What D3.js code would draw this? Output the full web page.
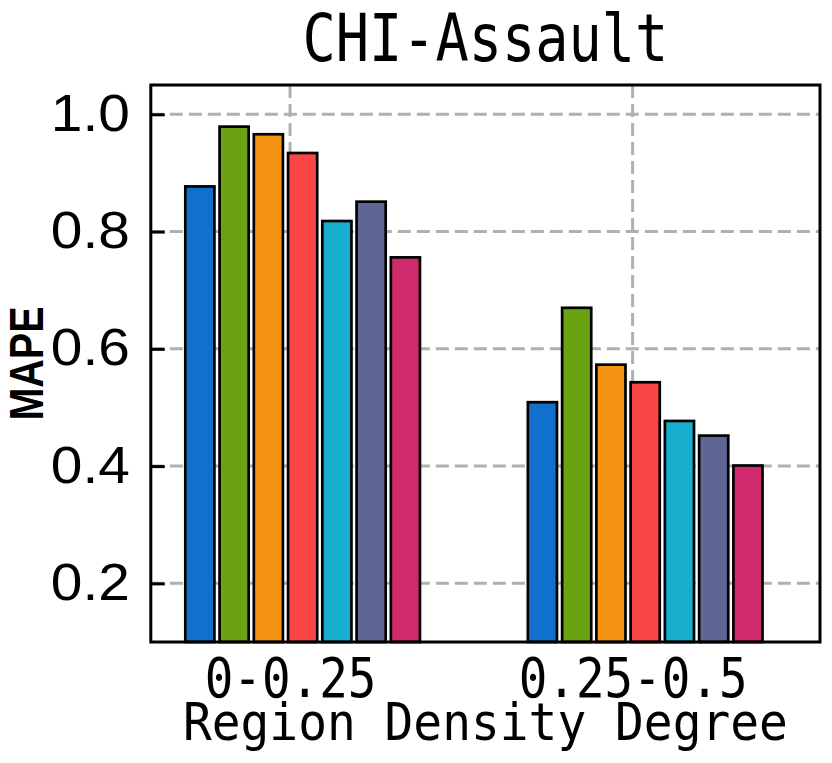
<!DOCTYPE html>
<html>
<head>
<meta charset="utf-8">
<script src="https://cdn.jsdelivr.net/npm/d3@7"></script>
<style>
  html, body { margin: 0; padding: 0; background: #ffffff; }
  svg { display: block; }
</style>
</head>
<body>
<svg id="chart" width="832" height="763"></svg>
<script>
// ---------------- data ----------------
const title = "CHI-Assault";
const xAxisTitle = "Region Density Degree";
const yAxisTitle = "MAPE";
const categories = ["0-0.25", "0.25-0.5"];
const seriesNames = ["S1", "S2", "S3", "S4", "S5", "S6", "S7"];
const series1 = [0.877, 0.509];
const series2 = [0.979, 0.670];
const series3 = [0.966, 0.573];
const series4 = [0.934, 0.543];
const series5 = [0.818, 0.477];
const series6 = [0.851, 0.452];
const series7 = [0.756, 0.401];
const seriesColors = ["#1070cc", "#6ba213", "#f49412", "#fa4646", "#17afcd", "#5f6694", "#cf2a6b"];
const yTickValues = [0.2, 0.4, 0.6, 0.8, 1.0];
const yTickLabels = ["0.2", "0.4", "0.6", "0.8", "1.0"];

const allSeries = [series1, series2, series3, series4, series5, series6, series7];

// ---------------- layout ----------------
const svg = d3.select("#chart");
const plot = { left: 150.8, right: 820, top: 85, bottom: 642 };

const x = d3.scaleLinear().domain([-0.4065, 1.547]).range([plot.left, plot.right]);
const y = d3.scaleLinear().domain([0.1, 1.05]).range([plot.bottom, plot.top]);
const barStep = 0.1, barWidth = 0.085, barShift = -2.633;

const gridColor = "#b0b0b0";

// grid
const grid = svg.append("g");
grid.selectAll("line.h").data(yTickValues).join("line")
  .attr("x1", plot.left).attr("x2", plot.right)
  .attr("y1", d => y(d)).attr("y2", d => y(d))
  .attr("stroke", gridColor).attr("stroke-width", 3)
  .attr("stroke-dasharray", "13,6");
grid.selectAll("line.v").data(categories.map((c, i) => i)).join("line")
  .attr("x1", d => x(d)).attr("x2", d => x(d))
  .attr("y1", plot.top).attr("y2", plot.bottom)
  .attr("stroke", gridColor).attr("stroke-width", 3)
  .attr("stroke-dasharray", "13,6");

// bars
const barsG = svg.append("g");
allSeries.forEach((vals, si) => {
  barsG.selectAll(null).data(vals.map((v, ci) => ({ v, ci }))).join("rect")
    .attr("x", d => x(d.ci + (si + barShift) * barStep - barWidth / 2))
    .attr("width", x(barWidth) - x(0))
    .attr("y", d => y(d.v))
    .attr("height", d => y(0.1) - y(d.v))
    .attr("fill", seriesColors[si])
    .attr("stroke", "#000")
    .attr("stroke-width", 2.7);
});

// y axis (inward ticks)
const yAxis = d3.axisLeft(y).tickValues(yTickValues)
  .tickFormat((d, i) => yTickLabels[i]).tickSize(-14).tickPadding(21);
const gy = svg.append("g").attr("transform", `translate(${plot.left},0)`).call(yAxis);
gy.select(".domain").remove();
gy.selectAll(".tick line").attr("stroke", "#000").attr("stroke-width", 3);
gy.selectAll(".tick text")
  .attr("font-family", "'Liberation Sans', Arial, sans-serif")
  .attr("font-size", 51)
  .attr("fill", "#000")
  .attr("dy", 16)
  .attr("textLength", 79)
  .attr("lengthAdjust", "spacingAndGlyphs");

// x axis
const xAxis = d3.axisBottom(x).tickValues(categories.map((c, i) => i))
  .tickFormat((d, i) => categories[i]).tickSize(0).tickPadding(0);
const gx = svg.append("g").attr("transform", `translate(0,${plot.bottom})`).call(xAxis);
gx.select(".domain").remove();
gx.selectAll(".tick text")
  .attr("font-family", "'DejaVu Sans Mono', monospace")
  .attr("font-size", 55)
  .attr("fill", "#000")
  .attr("y", 0).attr("dy", 55)
  .attr("textLength", (d, i) => categories[i].length * 28.6)
  .attr("lengthAdjust", "spacingAndGlyphs");

// frame
svg.append("rect")
  .attr("x", plot.left).attr("y", plot.top)
  .attr("width", plot.right - plot.left).attr("height", plot.bottom - plot.top)
  .attr("fill", "none").attr("stroke", "#000").attr("stroke-width", 3);

// title
svg.append("text")
  .attr("x", (plot.left + plot.right) / 2).attr("y", 61)
  .attr("text-anchor", "middle")
  .attr("font-family", "'DejaVu Sans Mono', monospace")
  .attr("font-size", 65)
  .attr("textLength", 366).attr("lengthAdjust", "spacingAndGlyphs")
  .text(title);

// x axis title
svg.append("text")
  .attr("x", (plot.left + plot.right) / 2).attr("y", 740)
  .attr("text-anchor", "middle")
  .attr("font-family", "'DejaVu Sans Mono', monospace")
  .attr("font-size", 52)
  .attr("textLength", 605).attr("lengthAdjust", "spacingAndGlyphs")
  .text(xAxisTitle);

// y axis title
svg.append("text")
  .attr("transform", `translate(43,${(plot.top + plot.bottom) / 2}) rotate(-90)`)
  .attr("text-anchor", "middle")
  .attr("font-family", "'Liberation Sans', Arial, sans-serif")
  .attr("font-weight", "bold")
  .attr("font-size", 48)
  .attr("textLength", 114).attr("lengthAdjust", "spacingAndGlyphs")
  .text(yAxisTitle);
</script>
</body>
</html>
